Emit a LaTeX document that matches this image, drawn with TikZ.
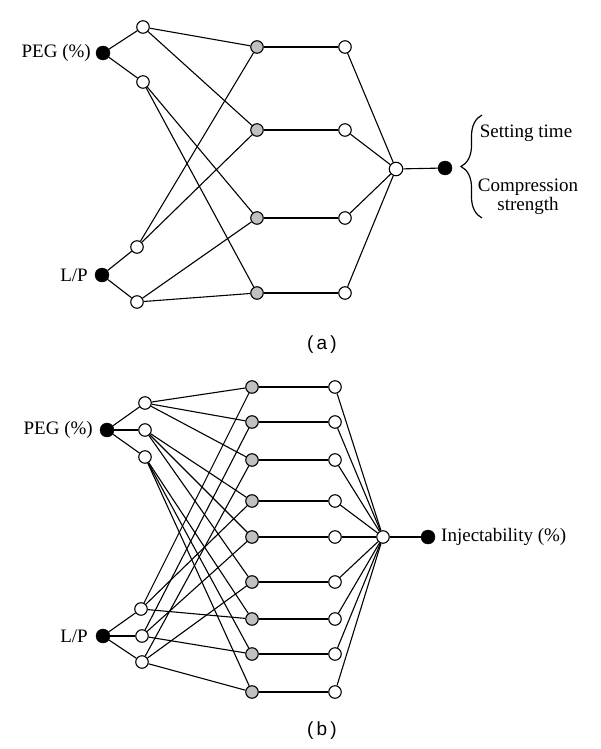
\documentclass[tikz,border=0pt]{standalone}
\usepackage{fontspec}
\setmainfont{Liberation Serif}
\setsansfont{Liberation Sans}
\usetikzlibrary{decorations.pathreplacing}
\definecolor{nodegray}{RGB}{192,192,192}
\begin{document}
\begin{tikzpicture}[x=1pt,y=-1pt,
  wn/.style={circle,draw,fill=white,inner sep=0pt,minimum size=12.5pt,line width=1.1pt},
  gn/.style={wn,fill=nodegray},
  bn/.style={circle,draw,fill=black,inner sep=0pt,minimum size=14pt},
  lab/.style={font=\fontsize{19}{20}\selectfont,inner sep=0pt},
  captext/.style={font=\sffamily\fontsize{19}{20}\selectfont,inner sep=0pt},
  edge/.style={line width=1.1pt}]
\useasboundingbox (0,0) rectangle (600,749);

% ---------------- (a) ----------------
\node[bn] (aP) at (103,53) {};
\node[lab,anchor=east] (aPl) at (91,53) {PEG (\%)};
\node[bn] (aL) at (102,275) {};
\node[lab,anchor=east] (aLl) at (88,275) {L/P};
\node[wn] (ah1) at (143,27) {};
\node[wn] (ah2) at (143,82) {};
\node[wn] (ah3) at (137,247) {};
\node[wn] (ah4) at (137,302) {};
\foreach \i/\y in {1/47,2/130,3/218,4/293}{
  \node[gn] (ag\i) at (257,\y) {};
  \node[wn] (ar\i) at (345,\y) {};
}
\node[wn,minimum size=13.5pt] (ac) at (396,169) {};
\node[bn] (ao) at (445,168) {};

\draw[edge] (aP) -- (ah1); \draw[edge] (aP) -- (ah2);
\draw[edge] (aL) -- (ah3); \draw[edge] (aL) -- (ah4);
\draw[edge] (ah1) -- (ag1); \draw[edge] (ah1) -- (ag2);
\draw[edge] (ah2) -- (ag3); \draw[edge] (ah2) -- (ag4);
\draw[edge] (ah3) -- (ag1); \draw[edge] (ah3) -- (ag2);
\draw[edge] (ah4) -- (ag3); \draw[edge] (ah4) -- (ag4);
\foreach \i in {1,...,4}{
  \draw[edge] (ag\i) -- (ar\i);
  \draw[edge] (ar\i) -- (ac);
}
\draw[edge] (ac) -- (ao);

\coordinate (braceB) at (482,218);
\coordinate (braceT) at (482,115);
\draw[line width=1.2pt,decorate,decoration={brace,amplitude=21pt}] (braceB) -- (braceT);
\node[lab] (aset) at (526,133) {Setting time};
\node[lab,align=center,font=\fontsize{19}{19.5}\selectfont] (acomp) at (528,197) {Compression\\strength};

\node[captext] (capa) at (322,345) {(\,a\,)};

% ---------------- (b) ----------------
\node[bn] (bP) at (107,430) {};
\node[lab,anchor=east] (bPl) at (93,430) {PEG (\%)};
\node[bn] (bL) at (103,636) {};
\node[lab,anchor=east] (bLl) at (88,636) {L/P};
\node[wn] (bh1) at (145,403) {};
\node[wn] (bh2) at (145,430) {};
\node[wn] (bh3) at (145,457) {};
\node[wn] (bh4) at (141,609) {};
\node[wn] (bh5) at (142,636) {};
\node[wn] (bh6) at (142,662) {};
\foreach \i/\y in {1/387,2/422,3/460,4/501,5/537,6/582,7/619,8/654,9/692}{
  \node[gn] (bg\i) at (252,\y) {};
  \node[wn] (br\i) at (335,\y) {};
}
\node[wn] (bc) at (383,537) {};
\node[bn] (bo) at (428,537) {};
\node[lab,anchor=west] (bol) at (441,537) {Injectability (\%)};

\foreach \h in {1,2,3}{
  \draw[edge] (bP) -- (bh\h);
}
\foreach \h in {4,5,6}{
  \draw[edge] (bL) -- (bh\h);
}
\foreach \i in {1,2,3}{
  \foreach \j in {1,2,3}{
    \pgfmathtruncatemacro{\g}{3*(\i-1)+\j}
    \pgfmathtruncatemacro{\l}{3+\j}
    \draw[edge] (bh\i) -- (bg\g);
    \draw[edge] (bh\l) -- (bg\g);
  }
}
\foreach \i in {1,...,9}{
  \draw[edge] (bg\i) -- (br\i);
  \draw[edge] (br\i) -- (bc);
}
\draw[edge] (bc) -- (bo);

\node[captext] (capb) at (322,731) {(\,b\,)};
\end{tikzpicture}
\end{document}
